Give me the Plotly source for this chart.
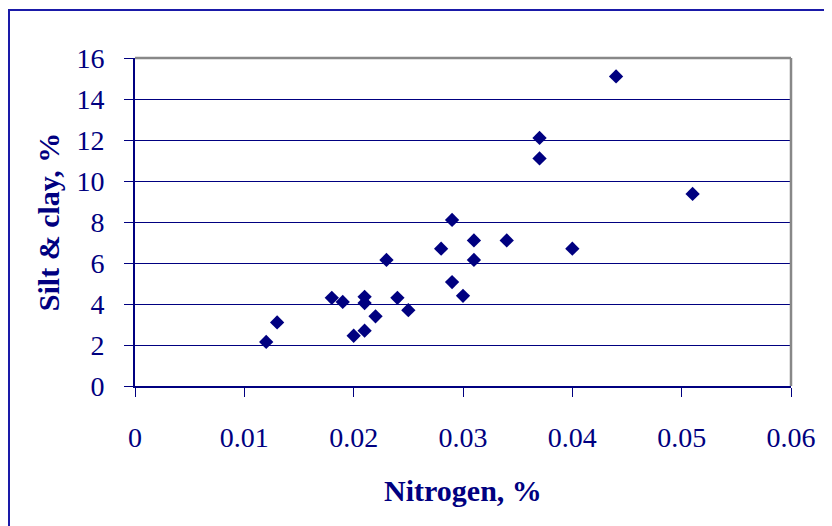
import plotly.graph_objects as go

nitrogen = [0.012, 0.013, 0.018, 0.019, 0.020, 0.021, 0.021, 0.021, 0.022, 0.023,
            0.024, 0.025, 0.028, 0.029, 0.029, 0.030, 0.031, 0.031, 0.034, 0.037,
            0.037, 0.040, 0.044, 0.051]
silt_clay = [2.15, 3.1, 4.3, 4.1, 2.45, 4.35, 4.05, 2.7, 3.4, 6.15,
             4.3, 3.7, 6.7, 8.1, 5.07, 4.4, 7.1, 6.15, 7.1, 12.1,
             11.1, 6.7, 15.1, 9.37]
x_ticks = [0, 0.01, 0.02, 0.03, 0.04, 0.05, 0.06]
x_tick_labels = ["0", "0.01", "0.02", "0.03", "0.04", "0.05", "0.06"]
y_ticks = [0, 2, 4, 6, 8, 10, 12, 14, 16]

navy = "#000080"
font = "Liberation Serif, Times New Roman, serif"

fig = go.Figure()
fig.add_trace(go.Scatter(
    x=nitrogen, y=silt_clay, mode="markers",
    marker=dict(symbol="diamond", size=11, color=navy, line=dict(width=0)),
    showlegend=False, cliponaxis=False,
))

# page has an 8px body margin
W, H = 824, 518
L, R, T, B = 127, 41, 50, 140
pw, ph = W - L - R, H - T - B

def px(x):
    return (x - L) / pw

def py(y):
    return (H - B - y) / ph

fig.update_layout(
    width=W, height=H,
    margin=dict(l=L, r=R, t=T, b=B, autoexpand=False),
    paper_bgcolor="white", plot_bgcolor="white",
    font=dict(family=font, color=navy, size=28),
    xaxis=dict(
        range=[0, 0.06], tickvals=x_ticks, ticktext=x_tick_labels,
        showgrid=False, zeroline=False,
        showline=True, linecolor=navy, linewidth=2,
        ticks="outside", ticklen=9, tickcolor=navy, tickwidth=1,
        ticklabelstandoff=16,
        tickfont=dict(family=font, color=navy, size=28),
        title=dict(text="<b>Nitrogen, %</b>", standoff=28,
                   font=dict(family=font, color=navy, size=30)),
    ),
    yaxis=dict(
        range=[0, 16], tickvals=y_ticks,
        showgrid=True, gridcolor=navy, gridwidth=1.3, zeroline=False,
        showline=True, linecolor=navy, linewidth=2,
        ticks="outside", ticklen=9, tickcolor=navy, tickwidth=1,
        ticklabelstandoff=14,
        tickfont=dict(family=font, color=navy, size=28),
        title=dict(text="<b>Silt & clay, %</b>", standoff=8,
                   font=dict(family=font, color=navy, size=30)),
    ),
    shapes=[
        dict(type="line", xref="paper", yref="paper", x0=0, x1=1, y0=1, y1=1,
             line=dict(color="#888888", width=2.5)),
        dict(type="line", xref="paper", yref="paper", x0=1, x1=1, y0=0, y1=1,
             line=dict(color="#888888", width=2.5)),
        dict(type="rect", xref="paper", yref="paper",
             x0=px(1), x1=px(840), y0=py(540), y1=py(2),
             line=dict(color="#1a1aa8", width=2)),
    ],
)

fig.write_html("out.html")
